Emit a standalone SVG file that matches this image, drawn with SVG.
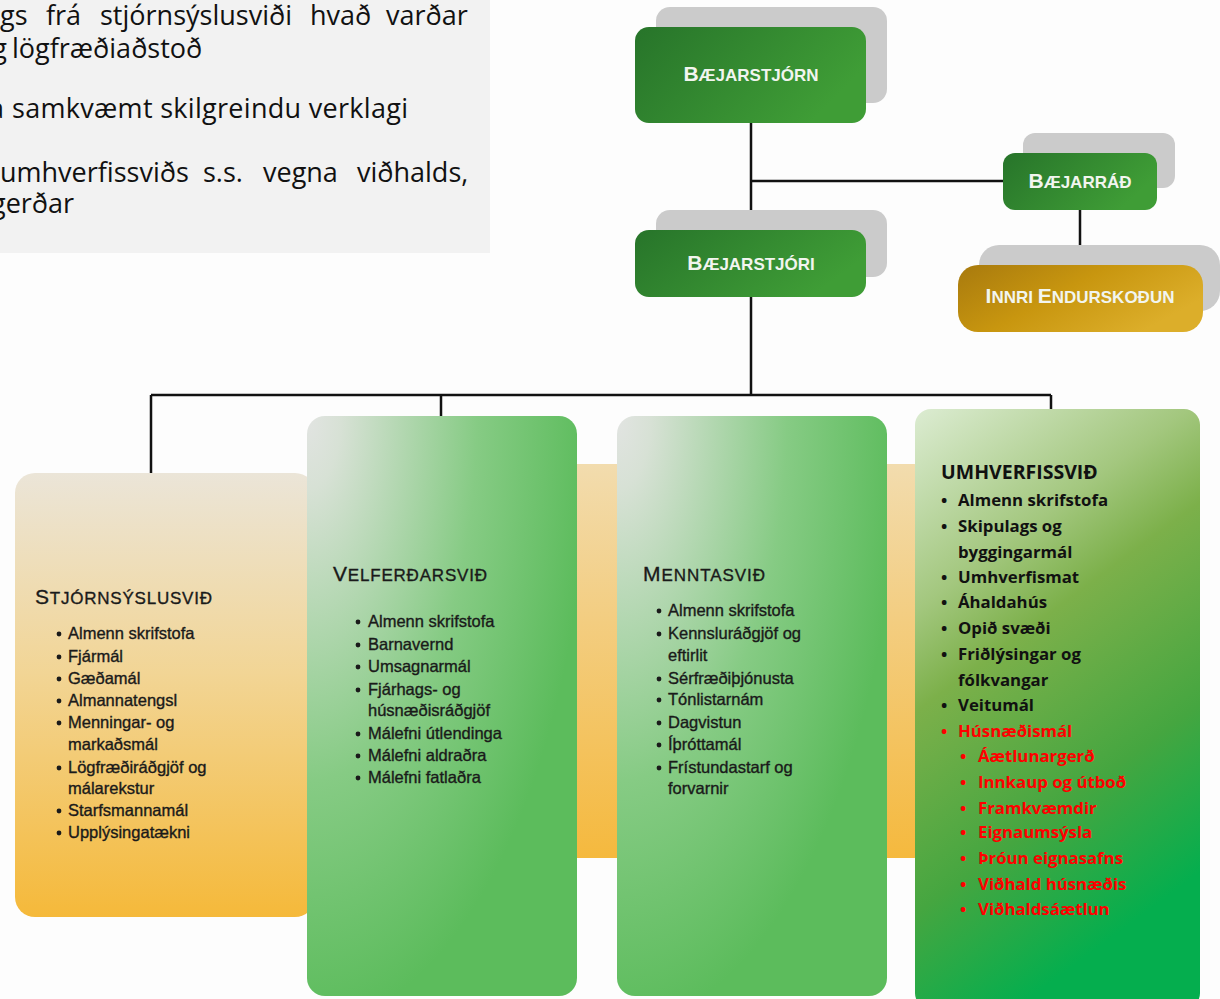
<svg xmlns="http://www.w3.org/2000/svg" width="1220" height="999" viewBox="0 0 1220 999">
<defs>
<linearGradient id="gBox" x1="0" y1="0" x2="1" y2="0.4"><stop offset="0" stop-color="#27742a"/><stop offset="1" stop-color="#3f9d36"/></linearGradient>
<linearGradient id="goldBox" x1="0" y1="0" x2="1" y2="0.5"><stop offset="0" stop-color="#a87a0e"/><stop offset="0.5" stop-color="#c8960f"/><stop offset="1" stop-color="#dcae2a"/></linearGradient>
<linearGradient id="orange" x1="0" y1="0" x2="0" y2="1"><stop offset="0" stop-color="#ebe5d8"/><stop offset="0.45" stop-color="#f2d595"/><stop offset="1" stop-color="#f5b93a"/></linearGradient>
<linearGradient id="orangeBand" x1="0" y1="0" x2="0" y2="1"><stop offset="0" stop-color="#f2dcae"/><stop offset="0.4" stop-color="#f3cd80"/><stop offset="1" stop-color="#f5b93e"/></linearGradient>
<radialGradient id="greenCard" cx="0" cy="0" r="1.05"><stop offset="0" stop-color="#e2e4e2"/><stop offset="0.12" stop-color="#d7e1d5"/><stop offset="0.6" stop-color="#86cb84"/><stop offset="1" stop-color="#5cbc5c"/></radialGradient>
<linearGradient id="envCard" x1="0" y1="0" x2="0.35" y2="1"><stop offset="0" stop-color="#dcecd2"/><stop offset="0.3" stop-color="#a3c77e"/><stop offset="0.45" stop-color="#7cb04a"/><stop offset="0.75" stop-color="#45a640"/><stop offset="1" stop-color="#05ae4e"/></linearGradient>
<style>
.line{stroke:#111;stroke-width:2.5;fill:none}
.shadow{fill:#cbcbcb}
.lbl{font-family:"Liberation Sans",Arial,sans-serif;font-weight:bold;fill:#f2f5ef;text-anchor:middle}
.big{font-size:21px}
.sm{font-size:17px}
.intro{font-family:"Open Sans","Noto Sans",sans-serif;font-size:27px;fill:#111}
.ct{font-family:"Liberation Sans",Arial,sans-serif;fill:#1a1a1a;stroke:#1a1a1a;stroke-width:0.35}
.ttl{font-size:17px}
.ttlb{font-size:21px}
.it{font-size:16.5px}
.env{font-family:"Open Sans","Noto Sans",sans-serif;font-weight:bold;fill:#111}
.envT{font-size:19.5px}
.envI{font-size:16.8px}
.red{fill:#ff0000}
</style>
</defs>
<rect width="1220" height="999" fill="#fdfdfd"/>

<g id="intro">
<rect x="0" y="0" width="490" height="253" fill="#f2f2f2"/>
<text class="intro" y="25"><tspan x="0">gs</tspan><tspan x="46">frá</tspan><tspan x="100">stjórnsýslusviði</tspan><tspan x="310">hvað</tspan><tspan x="386">varðar</tspan></text>
<text class="intro" x="7" y="58" text-anchor="end">og</text>
<text class="intro" x="12" y="58">lögfræðiaðstoð</text>
<text class="intro" x="4" y="118" text-anchor="end">a</text>
<text class="intro" x="12" y="118" textLength="396" lengthAdjust="spacing">samkvæmt skilgreindu verklagi</text>
<text class="intro" y="182"><tspan x="0">umhverfissviðs</tspan><tspan x="203">s.s.</tspan><tspan x="263">vegna</tspan><tspan x="357">viðhalds,</tspan></text>
<text class="intro" x="-9" y="213">gerðar</text>
</g>

<g id="connectors">
<path class="line" d="M751 123 V230 M751 181 H1003 M1080 210 V265 M751 297 V395 M151 395 H1051 M151 395 V474 M441 395 V416 M1051 395 V410"/>
</g>

<g id="bajarstjorn">
<rect class="shadow" x="656" y="7" width="231" height="96" rx="14"/>
<rect x="635" y="27" width="231" height="96" rx="14" fill="url(#gBox)"/>
<text class="lbl" x="751" y="81"><tspan class="big">B</tspan><tspan class="sm">ÆJARSTJÓRN</tspan></text>
</g>

<g id="bajarrad">
<rect class="shadow" x="1023" y="133" width="152" height="55" rx="12"/>
<rect x="1003" y="153" width="154" height="57" rx="12" fill="url(#gBox)"/>
<text class="lbl" x="1080" y="188"><tspan class="big">B</tspan><tspan class="sm">ÆJARRÁÐ</tspan></text>
</g>

<g id="bajarstjori">
<rect class="shadow" x="656" y="210" width="231" height="67" rx="14"/>
<rect x="635" y="230" width="231" height="67" rx="14" fill="url(#gBox)"/>
<text class="lbl" x="751" y="270"><tspan class="big">B</tspan><tspan class="sm">ÆJARSTJÓRI</tspan></text>
</g>

<g id="innri">
<rect class="shadow" x="979" y="245" width="241" height="66" rx="20"/>
<rect x="958" y="265" width="245" height="67" rx="20" fill="url(#goldBox)"/>
<text class="lbl" x="1080" y="303"><tspan class="big">I</tspan><tspan class="sm">NNRI </tspan><tspan class="big">E</tspan><tspan class="sm">NDURSKOÐUN</tspan></text>
</g>

<rect id="band" x="312" y="464" width="618" height="394" rx="16" fill="url(#orangeBand)"/>

<g id="stjornsysla">
<rect x="15" y="473" width="300" height="444" rx="20" fill="url(#orange)"/>
<text class="ct" x="35" y="604" textLength="177" lengthAdjust="spacing"><tspan class="ttlb">S</tspan><tspan class="ttl">TJÓRNSÝSLUSVIÐ</tspan></text>
<g fill="#1a1a1a"><circle cx="59" cy="634" r="2.4"/><circle cx="59" cy="657" r="2.4"/><circle cx="59" cy="679" r="2.4"/><circle cx="59" cy="701" r="2.4"/><circle cx="59" cy="723" r="2.4"/><circle cx="59" cy="768" r="2.4"/><circle cx="59" cy="811" r="2.4"/><circle cx="59" cy="833" r="2.4"/></g>
<text class="ct it"><tspan x="68" y="639">Almenn skrifstofa</tspan><tspan x="68" y="662">Fjármál</tspan><tspan x="68" y="684">Gæðamál</tspan><tspan x="68" y="706">Almannatengsl</tspan><tspan x="68" y="728">Menningar- og</tspan><tspan x="68" y="750">markaðsmál</tspan><tspan x="68" y="773">Lögfræðiráðgjöf og</tspan><tspan x="68" y="794">málarekstur</tspan><tspan x="68" y="816">Starfsmannamál</tspan><tspan x="68" y="838">Upplýsingatækni</tspan></text>
</g>

<g id="velferd">
<rect x="307" y="416" width="270" height="580" rx="18" fill="url(#greenCard)"/>
<text class="ct" x="333" y="581" textLength="154" lengthAdjust="spacing"><tspan class="ttlb">V</tspan><tspan class="ttl">ELFERÐARSVIÐ</tspan></text>
<g fill="#1a1a1a"><circle cx="358" cy="622" r="2.4"/><circle cx="358" cy="645" r="2.4"/><circle cx="358" cy="667" r="2.4"/><circle cx="358" cy="690" r="2.4"/><circle cx="358" cy="734" r="2.4"/><circle cx="358" cy="756" r="2.4"/><circle cx="358" cy="778" r="2.4"/></g>
<text class="ct it"><tspan x="368" y="627">Almenn skrifstofa</tspan><tspan x="368" y="650">Barnavernd</tspan><tspan x="368" y="672">Umsagnarmál</tspan><tspan x="368" y="695">Fjárhags- og</tspan><tspan x="368" y="716">húsnæðisráðgjöf</tspan><tspan x="368" y="739">Málefni útlendinga</tspan><tspan x="368" y="761">Málefni aldraðra</tspan><tspan x="368" y="783">Málefni fatlaðra</tspan></text>
</g>

<g id="mennta">
<rect x="617" y="416" width="270" height="580" rx="18" fill="url(#greenCard)"/>
<text class="ct" x="643" y="581" textLength="122" lengthAdjust="spacing"><tspan class="ttlb">M</tspan><tspan class="ttl">ENNTASVIÐ</tspan></text>
<g fill="#1a1a1a"><circle cx="659" cy="611" r="2.4"/><circle cx="659" cy="634" r="2.4"/><circle cx="659" cy="679" r="2.4"/><circle cx="659" cy="700" r="2.4"/><circle cx="659" cy="723" r="2.4"/><circle cx="659" cy="745" r="2.4"/><circle cx="659" cy="768" r="2.4"/></g>
<text class="ct it"><tspan x="668" y="616">Almenn skrifstofa</tspan><tspan x="668" y="639">Kennsluráðgjöf og</tspan><tspan x="668" y="661">eftirlit</tspan><tspan x="668" y="684">Sérfræðiþjónusta</tspan><tspan x="668" y="705">Tónlistarnám</tspan><tspan x="668" y="728">Dagvistun</tspan><tspan x="668" y="750">Íþróttamál</tspan><tspan x="668" y="773">Frístundastarf og</tspan><tspan x="668" y="794">forvarnir</tspan></text>
</g>

<g id="umhverfi">
<rect x="915" y="409" width="285" height="600" rx="16" fill="url(#envCard)"/>
<text class="env envT" x="941" y="479">UMHVERFISSVIÐ</text>
<text class="env envI"><tspan x="941" y="506">•</tspan><tspan x="958" y="506">Almenn skrifstofa</tspan><tspan x="941" y="532">•</tspan><tspan x="958" y="532">Skipulags og</tspan><tspan x="958" y="558">byggingarmál</tspan><tspan x="941" y="583">•</tspan><tspan x="958" y="583">Umhverfismat</tspan><tspan x="941" y="608">•</tspan><tspan x="958" y="608">Áhaldahús</tspan><tspan x="941" y="634">•</tspan><tspan x="958" y="634">Opið svæði</tspan><tspan x="941" y="660">•</tspan><tspan x="958" y="660">Friðlýsingar og</tspan><tspan x="958" y="686">fólkvangar</tspan><tspan x="941" y="711">•</tspan><tspan x="958" y="711">Veitumál</tspan></text>
<text class="env envI red"><tspan x="941" y="737">•</tspan><tspan x="958" y="737">Húsnæðismál</tspan><tspan x="960" y="762">•</tspan><tspan x="978" y="762">Áætlunargerð</tspan><tspan x="960" y="788">•</tspan><tspan x="978" y="788">Innkaup og útboð</tspan><tspan x="960" y="814">•</tspan><tspan x="978" y="814">Framkvæmdir</tspan><tspan x="960" y="838">•</tspan><tspan x="978" y="838">Eignaumsýsla</tspan><tspan x="960" y="864">•</tspan><tspan x="978" y="864">Þróun eignasafns</tspan><tspan x="960" y="890">•</tspan><tspan x="978" y="890">Viðhald húsnæðis</tspan><tspan x="960" y="915">•</tspan><tspan x="978" y="915">Viðhaldsáætlun</tspan></text>
</g>
</svg>
